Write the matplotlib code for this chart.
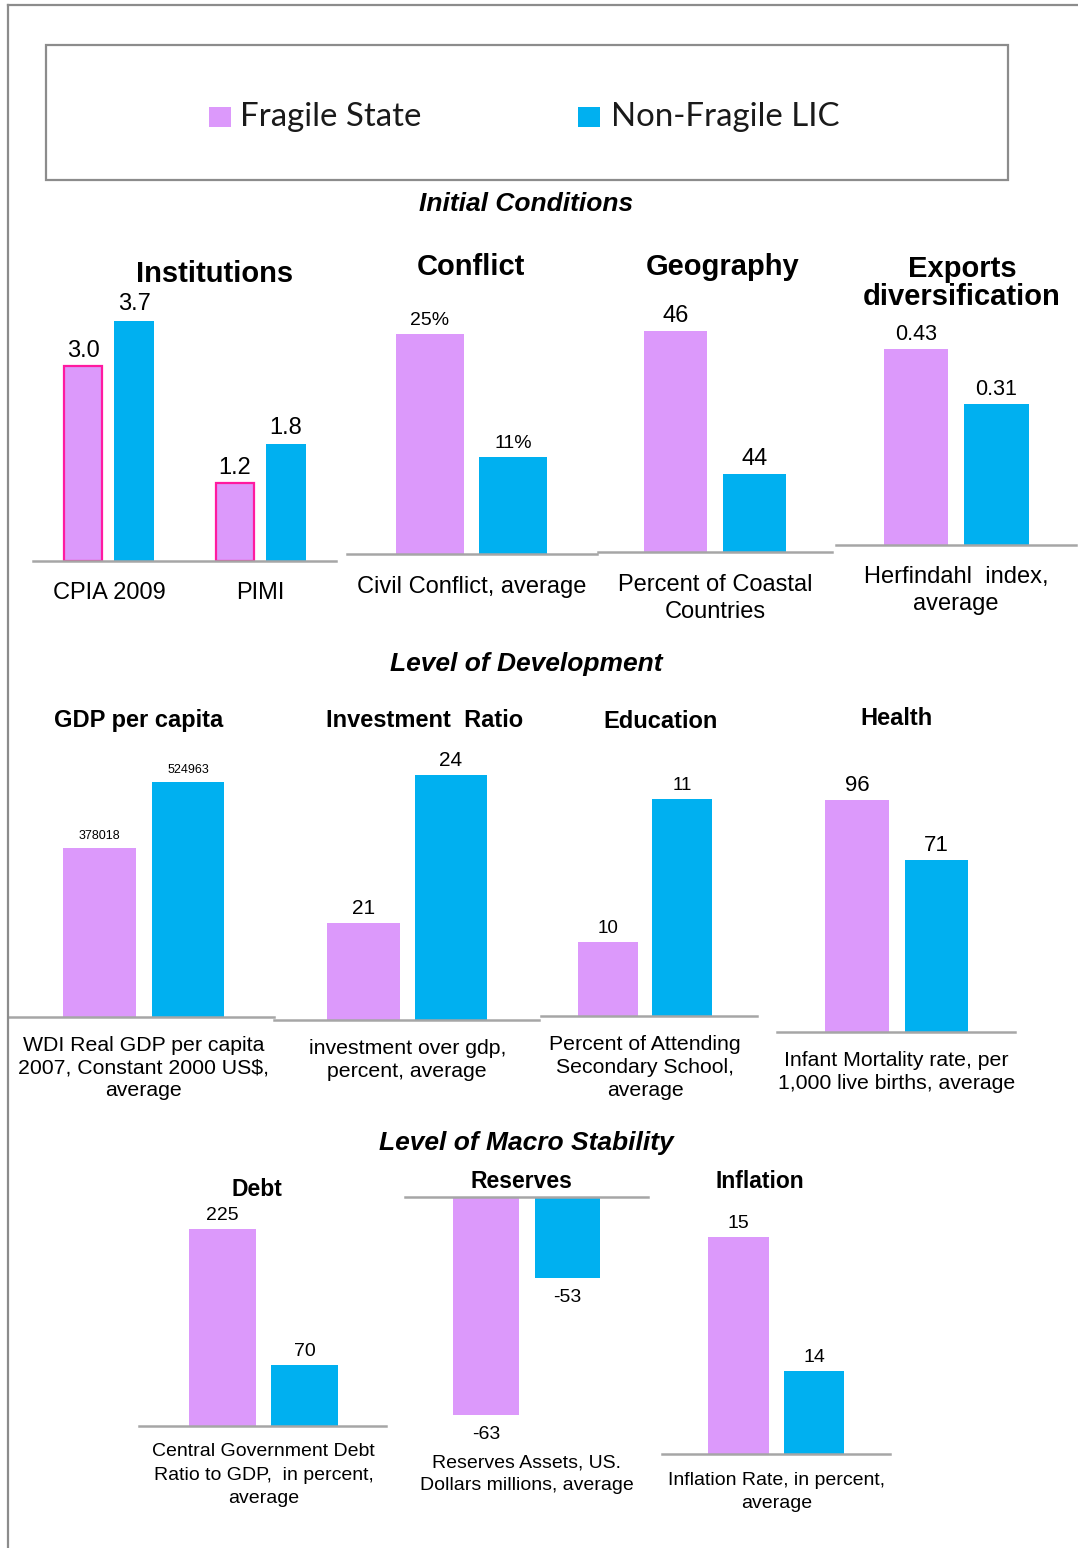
import matplotlib
matplotlib.use("Agg")
import matplotlib.pyplot as plt
from matplotlib.patches import Rectangle
from matplotlib.lines import Line2D
import numpy as np

plt.rcParams['font.family'] = ['Liberation Sans', 'DejaVu Sans']

# ---------------- data ----------------
series = ['Fragile State', 'Non-Fragile LIC']

section_titles = ['Initial Conditions', 'Level of Development', 'Level of Macro Stability']

inst_categories = ['CPIA 2009', 'PIMI']
inst_fragile = [3.0, 1.2]
inst_nonfragile = [3.7, 1.8]

conflict_values = [25, 11]
geography_values = [46, 44]
exports_values = [0.43, 0.31]
gdp_values = [378018, 524963]
investment_values = [21, 24]
education_values = [10, 11]
health_values = [96, 71]
debt_values = [225, 70]
reserves_values = [-63, -53]
inflation_values = [15, 14]

panel_titles = ['Institutions', 'Conflict', 'Geography', 'Exports\ndiversification',
                'GDP per capita', 'Investment  Ratio', 'Education', 'Health',
                'Debt', 'Reserves', 'Inflation']

category_labels = ['Civil Conflict, average',
                   'Percent of Coastal\nCountries',
                   'Herfindahl  index,\naverage',
                   'WDI Real GDP per capita\n2007, Constant 2000 US$,\naverage',
                   'investment over gdp,\npercent, average',
                   'Percent of Attending\nSecondary School,\naverage',
                   'Infant Mortality rate, per\n1,000 live births, average',
                   'Central Government Debt\nRatio to GDP,  in percent,\naverage',
                   'Reserves Assets, US.\nDollars millions, average',
                   'Inflation Rate, in percent,\naverage']

# ---------------- style ----------------
PINK = '#DC99FB'
BLUE = '#00B0F0'
EDGE = '#FF1AA0'
AXIS_GREY = '#A6A6A6'
FRAME_GREY = '#8C8C8C'

W, H = 1078, 1548
fig = plt.figure(figsize=(W / 100, H / 100), dpi=100)
fig.patch.set_facecolor('white')


def fx(x):
    return x / W


def fy(y):
    return 1 - y / H


# outer frame lines (top and left)
fig.add_artist(Line2D([fx(8), fx(1078)], [fy(5), fy(5)], color=FRAME_GREY, lw=1.6,
                      transform=fig.transFigure))
fig.add_artist(Line2D([fx(8), fx(8)], [fy(5), fy(1548)], color=FRAME_GREY, lw=1.6,
                      transform=fig.transFigure))

# legend box
fig.add_artist(Rectangle((fx(46), fy(180)), fx(1008) - fx(46), fy(45) - fy(180),
                         transform=fig.transFigure, fill=False, edgecolor=FRAME_GREY, lw=1.6))
legend_layout = [(209, 240), (578, 611)]
for (sx, tx), name, col in zip(legend_layout, series, [PINK, BLUE]):
    fig.add_artist(Rectangle((fx(sx), fy(127)), fx(sx + 22) - fx(sx), fy(107) - fy(127),
                             transform=fig.transFigure, facecolor=col, edgecolor='none'))
    fig.text(fx(tx), fy(126), name, fontsize=23.8, family=['Lato', 'DejaVu Sans'],
             ha='left', va='baseline', color='#1a1a1a')

# section titles
for t, yb in zip(section_titles, [211, 671, 1150]):
    fig.text(fx(526), fy(yb), t, fontsize=19, fontweight='bold', fontstyle='italic',
             ha='center', va='baseline')

# panel titles
title_pos = [(215, 282), (471, 275), (723, 275), (962, 305),
             (139, 727), (425, 727), (661, 728), (897, 725),
             (257, 1196), (521, 1188), (760, 1188)]
title_fs = [21, 21, 21, 21, 17, 17, 17, 17, 16.5, 16.5, 16.5]
for t, (x, y), fs in zip(panel_titles, title_pos, title_fs):
    fig.text(fx(x), fy(y), t, fontsize=fs, fontweight='bold', ha='center', va='baseline',
             linespacing=1.0)


def make_axes(box):
    left, right, top, bottom = box
    ax = fig.add_axes([fx(left), fy(bottom), fx(right) - fx(left), fy(top) - fy(bottom)])
    ax.set_xticks([])
    ax.set_yticks([])
    for s in ax.spines.values():
        s.set_visible(False)
    ax.patch.set_alpha(0)
    return ax


def panel(values, fmt, box, bars, yscale, vfs, cat, cat_fs, cat_pad, cat_ls,
          negative=False, vpad=9):
    left, right, top, bottom = box
    c0, sp, bw = bars
    v0, k = yscale
    ax = make_axes(box)
    x = np.arange(len(values))
    ax.set_xlim((left - c0) / sp, (right - c0) / sp)
    hpx = bottom - top
    if negative:
        ax.set_ylim(v0 - hpx / k, v0)
        ax.spines['top'].set_visible(True)
        ax.spines['top'].set_color(AXIS_GREY)
        ax.spines['top'].set_linewidth(1.8)
    else:
        ax.set_ylim(v0, v0 + hpx / k)
        ax.spines['bottom'].set_visible(True)
        ax.spines['bottom'].set_color(AXIS_GREY)
        ax.spines['bottom'].set_linewidth(1.8)
    ax.bar(x, values, width=bw / sp, color=[PINK, BLUE], edgecolor='none', zorder=2)
    for xi, v in zip(x, values):
        if negative:
            ax.annotate(fmt.format(v), xy=(xi, v), xytext=(0, -vpad * 0.72),
                        textcoords='offset points', ha='center', va='top', fontsize=vfs)
        else:
            ax.annotate(fmt.format(v), xy=(xi, v), xytext=(0, vpad * 0.72),
                        textcoords='offset points', ha='center', va='baseline', fontsize=vfs)
    ax.annotate(cat, xy=(0.5, 0), xycoords=('data', 'axes fraction'),
                xytext=(0, -cat_pad * 0.72), textcoords='offset points',
                ha='center', va='top', fontsize=cat_fs, linespacing=cat_ls,
                annotation_clip=False)
    return ax


# ---- Institutions (grouped) ----
ax = make_axes((33, 336, 280, 561))
ax.set_xlim(-0.503, 1.503)
ax.set_ylim(0, 281 / 65)
ax.spines['bottom'].set_visible(True)
ax.spines['bottom'].set_color(AXIS_GREY)
ax.spines['bottom'].set_linewidth(1.8)
gx = np.arange(len(inst_categories))
off = 25.5 / 151
bwid = 38 / 151
ax.bar(gx - off, inst_fragile, width=bwid, color=PINK, edgecolor=EDGE, linewidth=1.6, zorder=2)
ax.bar(gx + off, inst_nonfragile, width=40 / 151, color=BLUE, edgecolor='none', zorder=2)
for xi, v in zip(gx - off, inst_fragile):
    ax.annotate('{:.1f}'.format(v), xy=(xi, v), xytext=(0, 6.5), textcoords='offset points',
                ha='center', va='baseline', fontsize=17)
for xi, v in zip(gx + off, inst_nonfragile):
    ax.annotate('{:.1f}'.format(v), xy=(xi, v), xytext=(0, 7.5), textcoords='offset points',
                ha='center', va='baseline', fontsize=17)
for xi, c in zip(gx, inst_categories):
    ax.annotate(c, xy=(xi, 0), xycoords=('data', 'axes fraction'), xytext=(0, -21 * 0.72),
                textcoords='offset points', ha='center', va='top', fontsize=17)

# ---- other panels ----
panel(conflict_values, '{:.0f}%', (347, 597, 290, 554), (430, 83, 68), (0, 8.8), 14,
      category_labels[0], 17, 22, 1.2)
panel(geography_values, '{:.0f}', (598, 832, 290, 552), (675.5, 79, 63), (42.91, 71.5), 17,
      category_labels[1], 17, 22, 1.27)
panel(exports_values, '{:.2f}', (836, 1076, 310, 545), (916, 80.5, 64.5), (0, 456), 15.5,
      category_labels[2], 17, 21, 1.27)
panel(gdp_values, '{:.0f}', (8, 274, 745, 1017), (99.5, 88.5, 72.5), (0, 4.47e-4), 9,
      category_labels[3], 15.3, 19, 1.25)
panel(investment_values, '{:.0f}', (274, 539, 745, 1020), (363.5, 87.5, 72.5), (19.03, 49.3), 15,
      category_labels[4], 15.3, 19, 1.25)
panel(education_values, '{:.0f}', (541, 757, 745, 1016), (608, 74, 60), (9.48, 143), 13.5,
      category_labels[5], 15.3, 19, 1.25)
panel(health_values, '{:.0f}', (777, 1015, 745, 1032), (857, 79.5, 63.5), (0, 2.42), 16,
      category_labels[6], 15.3, 19, 1.25)
panel(debt_values, '{:.0f}', (139, 386, 1205, 1426), (222.5, 82, 67), (0, 0.876), 14,
      category_labels[7], 14, 17, 1.5)
panel(reserves_values, '{:.0f}', (405, 648, 1197, 1440), (486, 81.5, 65.5), (-47.1, 13.7), 14,
      category_labels[8], 14, 14, 1.5, negative=True, vpad=11)
panel(inflation_values, '{:.0f}', (662, 890, 1205, 1454), (738.5, 75.5, 60.5), (13.38, 134), 14,
      category_labels[9], 14, 18, 1.5)

fig.savefig('out.png', dpi=100, facecolor='white')
